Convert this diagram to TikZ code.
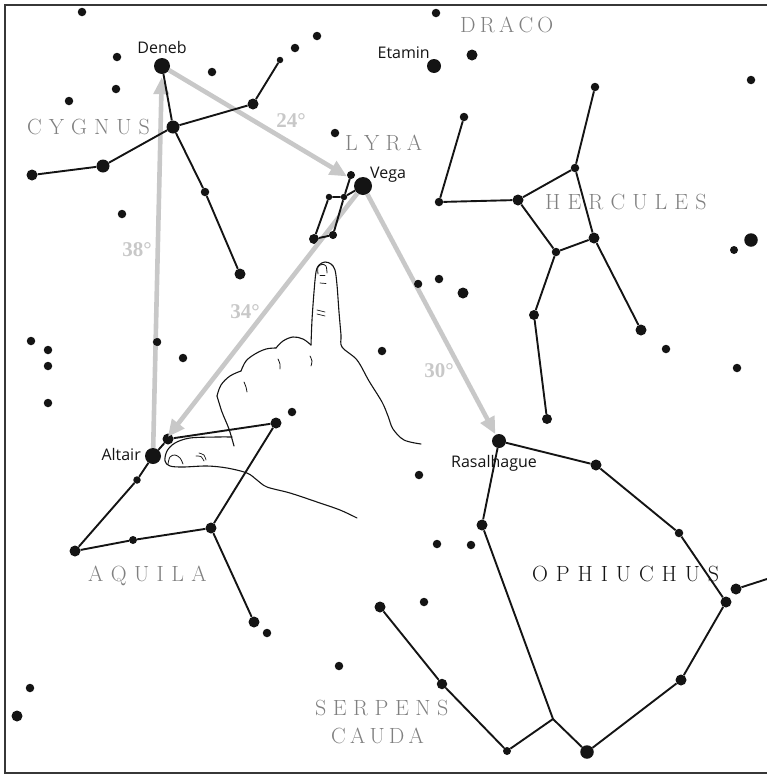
\documentclass[tikz,border=0pt]{standalone}
\usepackage{fontspec}
\newfontfamily\starfont{Open Sans}
\newfontfamily\degfont{Liberation Serif}
\usetikzlibrary{arrows.meta}

\definecolor{ink}{RGB}{20,20,20}
\definecolor{arrowgray}{RGB}{200,200,200}
\definecolor{namegray}{RGB}{128,128,128}

% letter-spaced constellation names: \spaced{gap in pt}{LETTERS}
\newlength\lsgap
\def\lsend{}
\def\lsrun#1{\ifx#1\lsend\else#1\kern\lsgap\expandafter\lsrun\fi}
\newcommand\spaced[2]{\setlength\lsgap{#1pt}\lsrun#2\lsend}

\tikzset{
  dot/.style={circle, fill=ink, draw=none, inner sep=0pt, minimum size=#1},
  cline/.style={draw=ink, line width=1.9pt},
  garrow/.style={draw=arrowgray, line width=4.6pt,
    -{Triangle[length=17pt,width=15pt]}},
  handline/.style={draw=ink, line width=1.1pt, line cap=round, line join=round},
  cname/.style={text=namegray, inner sep=0pt,
    font=\rmfamily\fontsize{22}{22}\selectfont},
  sname/.style={text=ink, inner sep=0pt,
    font=\starfont\fontsize{16}{16}\selectfont},
  deg/.style={text=arrowgray, inner sep=0pt,
    font=\degfont\bfseries\fontsize{21}{21}\selectfont},
  frameline/.style={draw=ink!85, line width=2pt},
}

\begin{document}
\begin{tikzpicture}[x=1pt, y=-1pt]
\useasboundingbox (0,0) rectangle (767,774);

% chart frame (open on the right)
\coordinate (ftr) at (767,5);
\coordinate (ftl) at (5,5);
\coordinate (fbl) at (5,773);
\coordinate (fbr) at (767,773);
\draw[frameline] (ftr) -- (ftl) -- (fbl) -- (fbr);

% ---------- stars ----------
% Cygnus
\node[dot=16]  (deneb) at (162,66) {};
\node[dot=13]  (cyg1) at (173,127) {};
\node[dot=8.5] (cyg2) at (205,192) {};
\node[dot=11]  (cyg3) at (240,274) {};
\node[dot=11]  (cyg4) at (253,104) {};
\node[dot=6.5] (cyg5) at (280,60) {};
\node[dot=13]  (cyg6) at (103,166) {};
\node[dot=11]  (cyg7) at (32,175) {};
% Lyra
\node[dot=18]  (vega) at (363,186) {};
\node[dot=7]   (lyr1) at (351,175) {};
\node[dot=6.5] (lyr2) at (329,197) {};
\node[dot=6.5] (lyr3) at (344,197) {};
\node[dot=10]  (lyr4) at (314,239) {};
\node[dot=7.5] (lyr5) at (333,235) {};
% Draco
\node[dot=14]  (etamin) at (434,66) {};
% Hercules
\node[dot=8.5] (h1) at (464,117) {};
\node[dot=8.5] (h2) at (439,202) {};
\node[dot=11]  (h3) at (518,200) {};
\node[dot=8.5] (h4) at (575,168) {};
\node[dot=8.5] (h5) at (595,87) {};
\node[dot=8.5] (h6) at (556,252) {};
\node[dot=11]  (h7) at (594,238) {};
\node[dot=10]  (h8) at (534,315) {};
\node[dot=10]  (h9) at (547,419) {};
\node[dot=11]  (h10) at (641,330) {};
% Aquila
\node[dot=16]  (altair) at (153,456) {};
\node[dot=11]  (aq1) at (168,439) {};
\node[dot=11]  (aq2) at (276,423) {};
\node[dot=7.5] (aq3) at (137,480) {};
\node[dot=11]  (aq4) at (75,551) {};
\node[dot=8]   (aq5) at (133,540) {};
\node[dot=11]  (aq6) at (211,528) {};
\node[dot=11]  (aq7) at (254,622) {};
% Ophiuchus and Serpens Cauda
\node[dot=14]  (ras) at (499,441) {};
\node[dot=11]  (op1) at (596,465) {};
\node[dot=8.5] (op2) at (679,533) {};
\node[dot=11]  (op3) at (726,602) {};
\node[dot=11]  (op4) at (736,589) {};
\node[dot=11]  (op5) at (681,680) {};
\node[dot=13.5] (op6) at (587,752) {};
\node[dot=8]   (op7) at (507,751) {};
\node[dot=10.5] (op8) at (442,684) {};
\node[dot=11]  (op9) at (380,607) {};
\node[dot=11]  (op10) at (482,525) {};
\coordinate (oj) at (553,719);
\coordinate (oe) at (767,579);

% field stars
\foreach \x/\y/\d [count=\i] in {
  82/12/8.5, 117/57/8.5, 212/72/8.5, 317/36/8.5, 295/48/8.5, 116/89/8.5,
  69/101/8.5, 335/133/8.5, 122/214/8.5, 436/13/8.5, 472/55/11, 751/80/8.5,
  751/240/13.5, 734/250/8, 418/284/8.5, 439/279/8.5, 463/293/11,
  382/351/8.5, 157/342/8.5, 183/358/8.5, 31/341/8.5, 48/350/8.5,
  48/366/8.5, 48/403/8.5, 292/412/8.5, 419/475/8.5, 437/544/8.5,
  471/545/8.5, 424/602/8.5, 339/666/8.5, 267/633/8.5, 30/688/8.5,
  17/716/11, 666/349/8.5, 737/368/8.5}
  \node[dot=\d] (f\i) at (\x,\y) {};

% ---------- star-hopping arrows ----------
\draw[garrow, shorten >=9.5pt] (deneb) -- (vega);
\draw[garrow, shorten >=3pt] (altair) -- (deneb);
\draw[garrow, shorten >=16pt] (vega) -- (altair);
\draw[garrow, shorten >=0.5pt] (vega) -- (ras);

% ---------- constellation figures ----------
\draw[cline] (deneb) -- (cyg1) -- (cyg2) -- (cyg3);
\draw[cline] (cyg7) -- (cyg6) -- (cyg1) -- (cyg4) -- (cyg5);
\draw[cline] (lyr1) -- (lyr3) -- (vega);
\draw[cline] (lyr2) -- (lyr3) -- (lyr5) -- (lyr4) -- (lyr2);
\draw[cline] (h1) -- (h2) -- (h3) -- (h4) -- (h5);
\draw[cline] (h3) -- (h6) -- (h7) -- (h4);
\draw[cline] (h6) -- (h8) -- (h9);
\draw[cline] (h7) -- (h10);
\draw[cline] (aq2) -- (aq1) -- (altair) -- (aq3) -- (aq4) -- (aq5) -- (aq6) -- (aq2);
\draw[cline] (aq6) -- (aq7);
\draw[cline] (ras) -- (op1) -- (op2) -- (op3) -- (op5) -- (op6) -- (oj)
             -- (op7) -- (op8) -- (op9);
\draw[cline] (ras) -- (op10) -- (oj);
\draw[cline] (op4) -- (oe);

% redraw the stars that sit on the arrows
\foreach \n in {f15, f19, lyr1, lyr4, lyr5}
  \fill[ink] (\n.center) circle (4pt);

% ---------- pointing hand ----------
% index finger and back of the hand
\draw[handline] plot[smooth, tension=0.55] coordinates {
  (311,345) (312,320) (314,292) (316,272) (319,265) (325,262) (331,264)
  (335,270) (337,285) (339,312) (341,335) (342,347) (357,360) (369,381)
  (382,402) (388,416) (393,429) (404,440) (421,444)};
% curled fingers
\draw[handline] plot[smooth, tension=0.6] coordinates {
  (311,345) (303,339) (293,337) (283,341) (276,348)};
\draw[handline] plot[smooth, tension=0.6] coordinates {
  (276,348) (266,349) (255,354) (246,361) (241,371)};
\draw[handline] plot[smooth, tension=0.6] coordinates {
  (241,371) (230,376) (221,385) (217,396)};
\draw[handline] plot[smooth, tension=0.5] coordinates {
  (217,396) (222,412) (229,429) (234,446)};
% thumb and underside of the hand
\draw[handline] plot[smooth, tension=0.55] coordinates {
  (232,437) (217,437) (190,438) (175,443) (167,451) (165,461) (170,466)
  (183,467) (207,466) (227,468) (247,473) (257,480) (267,487) (290,493)
  (317,502) (340,510) (357,518)};
% nails
\draw[handline, line width=0.8pt] plot[smooth, tension=0.6] coordinates {
  (168,464) (170,457) (175,455) (180,458) (183,464)};
\draw[handline, line width=0.8pt] plot[smooth, tension=0.6] coordinates {
  (318,274) (318,267) (322,264.5) (326,266) (327,273)};
\draw[handline, line width=0.8pt] (320,275) -- (325,275);
% creases
\draw[handline, line width=0.7pt] plot[smooth] coordinates {(196,456) (201,456.5) (204,461)};
\draw[handline, line width=0.7pt] plot[smooth] coordinates {(199,453) (204,455) (206,460)};
\draw[handline, line width=0.7pt] (320,283) -- (326,283.5);
\draw[handline, line width=0.7pt] (317,310) -- (325,312);
\draw[handline, line width=0.7pt] (317,314) -- (325,316);
\draw[handline, line width=0.8pt] plot[smooth] coordinates {(278,359) (280,364) (280,369)};
\draw[handline, line width=0.8pt] plot[smooth] coordinates {(310,356) (312,361) (311,366)};
\draw[handline, line width=0.8pt] plot[smooth] coordinates {(244,382) (246,387) (247,392)};

% ---------- angular distances ----------
\node[deg] (d24) at (291,121) {24°};
\node[deg] (d38) at (137,250) {38°};
\node[deg] (d34) at (245,312) {34°};
\node[deg] (d30) at (439,371) {30°};

% ---------- star names ----------
\node[sname, anchor=base] (ndeneb) at (162,53) {Deneb};
\node[sname, anchor=base east] (netamin) at (430,58) {Etamin};
\node[sname, anchor=base west] (nvega) at (370,178) {Vega};
\node[sname, anchor=base east] (naltair) at (141,460) {Altair};
\node[sname, anchor=base west] (nras) at (451,467) {Rasalhague};

% ---------- constellation names ----------
\node[cname, anchor=base west] (ccyg) at (27,134) {\spaced{7}{CYGNUS}};
\node[cname, anchor=base west] (cdra) at (460,32) {\spaced{4.2}{DRACO}};
\node[cname, anchor=base west] (clyr) at (345,150) {\spaced{6.3}{LYRA}};
\node[cname, anchor=base west] (cher) at (545,209) {\spaced{7.1}{HERCULES}};
\node[cname, anchor=base west] (caql) at (88,581) {\spaced{7.4}{AQUILA}};
\node[cname, anchor=base west, text=ink] (coph) at (532,581) {\spaced{7.9}{OPHIUCHUS}};
\node[cname, anchor=base west] (cser) at (315,715) {\spaced{6.5}{SERPENS}};
\node[cname, anchor=base west] (ccau) at (331,743) {\spaced{4.2}{CAUDA}};
\end{tikzpicture}
\end{document}
